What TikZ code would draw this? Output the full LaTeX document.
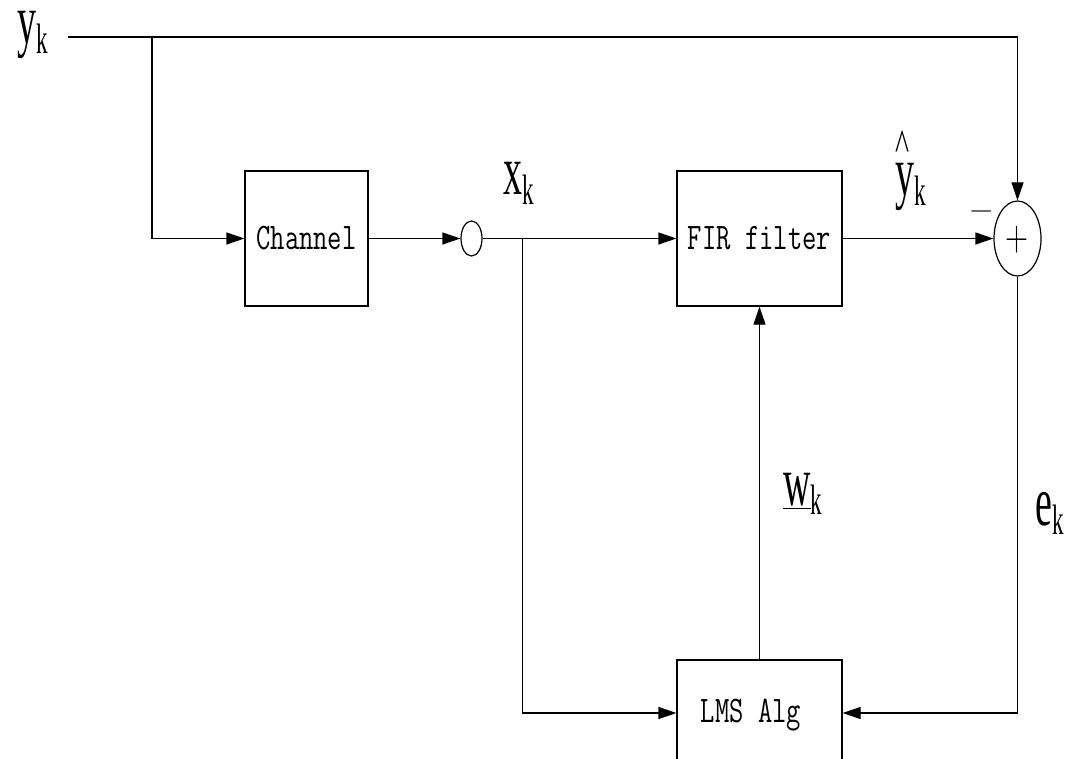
\documentclass[tikz,border=0pt]{standalone}
\usepackage{fontspec}
\setmainfont{Liberation Serif}
\newfontfamily\lmrfont{Latin Modern Roman}
\usepackage{graphicx}
\usetikzlibrary{arrows.meta,shapes.geometric}
\newcommand{\sublbl}[1]{\scalebox{1}[1.85]{\fontsize{38}{38}\selectfont #1\raisebox{-5.4pt}{\fontsize{23}{23}\selectfont k}}}
\newcommand{\boxtxt}[1]{\scalebox{1}[1.35]{\fontsize{27.8}{28}\selectfont\ttfamily #1}}
\tikzset{
  wire/.style={line width=1.2pt},
  arr/.style={wire,-{Triangle[length=18pt,width=12pt]}},
  blockbox/.style={draw,line width=1.2pt,rectangle,inner sep=0pt,text height=22pt,text depth=0pt},
  lbl/.style={inner sep=0pt,anchor=base west},
}
\begin{document}
\begin{tikzpicture}[x=1pt,y=-1pt]
\clip (0,0) rectangle (1073,759);
\useasboundingbox (0,0) rectangle (1073,759);
% blocks
\node[blockbox,minimum width=123pt,minimum height=135pt] (chan) at (306.5,238.5) {\boxtxt{Channel}};
\node[blockbox,minimum width=165pt,minimum height=135pt] (fir) at (759.5,238.5) {\boxtxt{FIR filter}};
\node[blockbox,minimum width=165pt,minimum height=106pt] (lms) at (759.5,713) {};
\node[inner sep=0pt,anchor=base] (lmstxt) at (751,722) {\boxtxt{LMS Alg}};
\node[draw,ellipse,line width=1.2pt,minimum width=21pt,minimum height=35pt,inner sep=0pt] (node1) at (471.5,238.5) {};
\node[draw,ellipse,line width=1.2pt,minimum width=47pt,minimum height=75pt,inner sep=0pt] (sum) at (1017.5,238.5) {};
\node[inner sep=0pt] (plus) at (1017.5,240) {\scalebox{1}[1.35]{\fontsize{32}{32}\selectfont\lmrfont +}};
\node[inner sep=0pt] (minus) at (981.5,215) {\fontsize{32}{32}\selectfont\lmrfont −};
% labels
\node[lbl] (ylbl) at (17,44) {\sublbl{y}};
\node[lbl] (xlbl) at (503,195) {\sublbl{x}};
\node[lbl] (yhlbl) at (895,196) {\sublbl{y}};
\node[inner sep=0pt] (hat) at (903,146) {\scalebox{1}[1.5]{\fontsize{30}{30}\selectfont\symbol{"5E}}};
\node[lbl] (wlbl) at (783,505) {\sublbl{\underline{w}}};
\node[lbl] (elbl) at (1035,525) {\sublbl{e}};
% coordinates
\coordinate (ystart) at (68,37);
\coordinate (tap1) at (152,37);
\coordinate (tap2) at (522.5,238.5);
% connectors
\draw[arr] (ystart) -| (sum.north);
\draw[arr] (tap1) |- (chan.west);
\draw[arr] (chan.east) -- (node1.west);
\draw[arr] (node1.east) -- (fir.west);
\draw[arr] (tap2) |- (lms.west);
\draw[arr] (fir.east) -- (sum.west);
\draw[arr] (sum.south) |- (lms.east);
\draw[arr] (lms.north) -- (fir.south);
\end{tikzpicture}
\end{document}
